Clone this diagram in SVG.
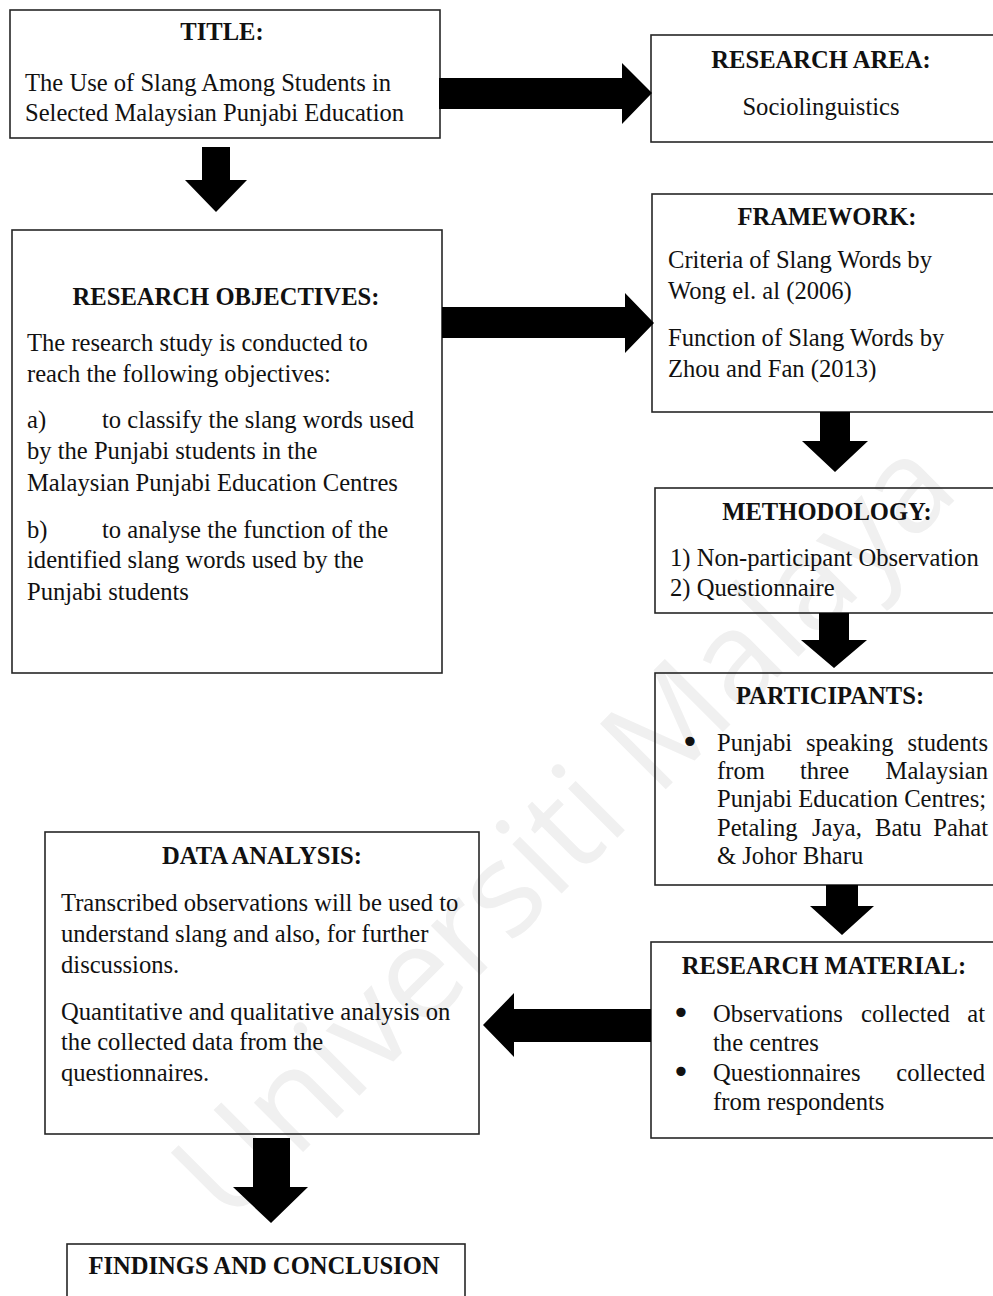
<svg xmlns="http://www.w3.org/2000/svg" width="993" height="1296" viewBox="0 0 993 1296">
<style>
.bg{fill:#ffffff}
.box{fill:none;stroke:#262626;stroke-width:1.6}
.t{font-family:"Liberation Serif","Times New Roman",serif;font-size:24.6px;fill:#111}
.h{font-family:"Liberation Serif","Times New Roman",serif;font-size:24.6px;font-weight:bold;fill:#111;text-anchor:middle}
.e{text-anchor:end}
.b{font-family:"DejaVu Sans","Liberation Sans",sans-serif;font-size:32px;fill:#111;text-anchor:middle}
.arrow{fill:#000}
.wm{font-family:"Open Sans","Liberation Sans",sans-serif;font-size:130px;fill:#f0f0f0;text-anchor:middle}
</style>
<rect class="bg" x="0" y="0" width="993" height="1296"/>
<text class="wm" x="595" y="860" transform="rotate(-45 595 860)">Universiti Malaya</text>

<g id="title">
<rect class="box" x="10" y="10" width="430" height="128"/>
<text class="h" x="222" y="40">TITLE:</text>
<text class="t" x="25" y="91">The Use of Slang Among Students in</text>
<text class="t" x="25" y="121">Selected Malaysian Punjabi Education</text>
</g>

<g id="research-area">
<rect class="box" x="651" y="35" width="360" height="107"/>
<text class="h" x="821" y="68">RESEARCH AREA:</text>
<text class="t" x="821" y="115" text-anchor="middle">Sociolinguistics</text>
</g>

<g id="research-objectives">
<rect class="box" x="12" y="230" width="430" height="443"/>
<text class="h" x="226" y="305">RESEARCH OBJECTIVES:</text>
<text class="t" x="27" y="351">The research study is conducted to</text>
<text class="t" x="27" y="382">reach the following objectives:</text>
<text class="t" x="27" y="428">a)</text>
<text class="t" x="102" y="428">to classify the slang words used</text>
<text class="t" x="27" y="459">by the Punjabi students in the</text>
<text class="t" x="27" y="491">Malaysian Punjabi Education Centres</text>
<text class="t" x="27" y="538">b)</text>
<text class="t" x="102" y="538">to analyse the function of the</text>
<text class="t" x="27" y="568">identified slang words used by the</text>
<text class="t" x="27" y="600">Punjabi students</text>
</g>

<g id="framework">
<rect class="box" x="652" y="194" width="360" height="218"/>
<text class="h" x="827" y="225">FRAMEWORK:</text>
<text class="t" x="668" y="268">Criteria of Slang Words by</text>
<text class="t" x="668" y="299">Wong el. al (2006)</text>
<text class="t" x="668" y="346">Function of Slang Words by</text>
<text class="t" x="668" y="377">Zhou and Fan (2013)</text>
</g>

<g id="methodology">
<rect class="box" x="655" y="488" width="360" height="125"/>
<text class="h" x="827" y="520">METHODOLOGY:</text>
<text class="t" x="670" y="566">1) Non-participant Observation</text>
<text class="t" x="670" y="596">2) Questionnaire</text>
</g>

<g id="participants">
<rect class="box" x="655" y="673" width="360" height="212"/>
<text class="h" x="830" y="704">PARTICIPANTS:</text>
<text class="b" x="690" y="753">•</text>
<text class="t" x="717" y="751">Punjabi</text>
<text class="t" x="806" y="751">speaking</text>
<text class="t e" x="988" y="751">students</text>
<text class="t" x="717" y="779">from</text>
<text class="t" x="800" y="779">three</text>
<text class="t e" x="988" y="779">Malaysian</text>
<text class="t" x="717" y="807">Punjabi Education Centres;</text>
<text class="t" x="717" y="836">Petaling</text>
<text class="t" x="812" y="836">Jaya,</text>
<text class="t" x="875" y="836">Batu</text>
<text class="t e" x="988" y="836">Pahat</text>
<text class="t" x="717" y="864">&amp; Johor Bharu</text>
</g>

<g id="research-material">
<rect class="box" x="651" y="942" width="360" height="196"/>
<text class="h" x="824" y="974">RESEARCH MATERIAL:</text>
<text class="b" x="681" y="1024">•</text>
<text class="t" x="713" y="1022">Observations</text>
<text class="t" x="861" y="1022">collected</text>
<text class="t e" x="985" y="1022">at</text>
<text class="t" x="713" y="1051">the centres</text>
<text class="b" x="681" y="1083">•</text>
<text class="t" x="713" y="1081">Questionnaires</text>
<text class="t e" x="985" y="1081">collected</text>
<text class="t" x="713" y="1110">from respondents</text>
</g>

<g id="data-analysis">
<rect class="box" x="45" y="832" width="434" height="302"/>
<text class="h" x="262" y="864">DATA ANALYSIS:</text>
<text class="t" x="61" y="911">Transcribed observations will be used to</text>
<text class="t" x="61" y="942">understand slang and also, for further</text>
<text class="t" x="61" y="973">discussions.</text>
<text class="t" x="61" y="1020">Quantitative and qualitative analysis on</text>
<text class="t" x="61" y="1050">the collected data from the</text>
<text class="t" x="61" y="1081">questionnaires.</text>
</g>

<g id="findings">
<rect class="box" x="67" y="1244" width="398" height="70"/>
<text class="h" x="264" y="1274">FINDINGS AND CONCLUSION</text>
</g>

<g id="connectors">
<polygon class="arrow" points="202,147 230,147 230,180 247,180 216,212 185,180 202,180"/>
<polygon class="arrow" points="439,78 622,78 622,63 652,93 622,124 622,109 439,109"/>
<polygon class="arrow" points="442,307 625,307 625,293 654,323 625,353 625,338 442,338"/>
<polygon class="arrow" points="820,412 850,412 850,441 868,441 835,472 802,441 820,441"/>
<polygon class="arrow" points="819,613 849,613 849,640 867,640 834,668 801,640 819,640"/>
<polygon class="arrow" points="826,885 858,885 858,906 874,906 842,935 810,906 826,906"/>
<polygon class="arrow" points="651,1009 514,1009 514,993 483,1025 514,1057 514,1042 651,1042"/>
<polygon class="arrow" points="253,1138 290,1138 290,1187 308,1187 271,1223 233,1187 253,1187"/>
</g>
</svg>
